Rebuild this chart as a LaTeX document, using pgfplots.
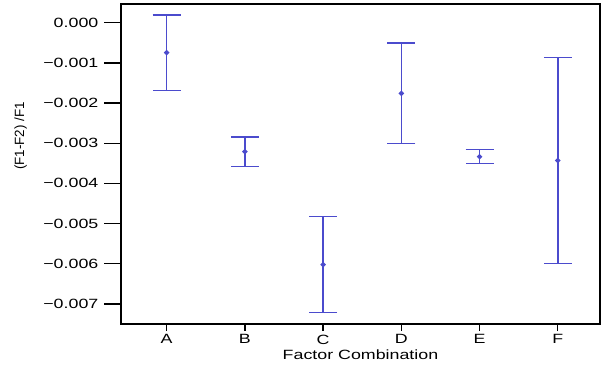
\documentclass[border=0pt]{standalone}
\usepackage{pgfplots}
\pgfplotsset{compat=1.18}
\usepackage{fontspec}
\setmainfont{Liberation Sans}[FakeStretch=1.33]
\newfontfamily\wide{Liberation Sans}[FakeStretch=1.33]
\newfontfamily\ylabfont{Liberation Sans}
\newcommand{\tl}[1]{\hbox{\wide\fontsize{13.4}{15}\selectfont #1}}
\definecolor{barblue}{RGB}{75,75,205}
\begin{document}
\fontsize{13.4}{15}\selectfont
\begin{tikzpicture}
\begin{axis}[
  scale only axis, width=479pt, height=320pt,
  xmin=-0.584, xmax=5.54,
  ymin=-0.0075, ymax=0.000465,
  axis y line*=left, axis x line=none,
  axis line style={line width=1.4pt},
  ytick={0,-0.001,-0.002,-0.003,-0.004,-0.005,-0.006,-0.007},
  yticklabels={},
  scaled y ticks=false,
  tick align=outside,
  major tick length=17pt,
  every tick/.style={black, line width=1.4pt},
]
\addplot[draw=none] coordinates {(0,0)};
\end{axis}
\begin{axis}[
  name=main,
  scale only axis, width=479pt, height=320pt,
  xmin=-0.584, xmax=5.54,
  ymin=-0.0075, ymax=0.000465,
  axis line style={line width=1.4pt},
  xtick={0,1,2,3,4,5},
  xticklabels={\tl{A},\tl{B},\tl{C},\tl{D},\tl{E},\tl{F}},
  ytick={0,-0.001,-0.002,-0.003,-0.004,-0.005,-0.006,-0.007},
  yticklabels={\tl{0.000},\tl{−0.001},\tl{−0.002},\tl{−0.003},\tl{−0.004},\tl{−0.005},\tl{−0.006},\tl{−0.007}},
  scaled y ticks=false,
  tick pos=left,
  tick align=outside,
  major tick length=7pt,
  every tick/.style={black, line width=1.4pt},
  xticklabel style={yshift=1pt},
  yticklabel style={xshift=-11pt},
  xlabel={\tl{Factor Combination}},
  xlabel style={yshift=3pt},
  ylabel={\hbox{\ylabfont\fontsize{13.4}{15}\selectfont (F1-F2) /F1}},
  every axis y label/.style={at={(rel axis cs:-0.232,0.5875)}, rotate=90, anchor=north},
  clip=false,
]
\addplot[color=barblue, line width=1.5pt, only marks, mark=*, mark size=1.8pt,
  error bars/.cd, y dir=both, y explicit,
  error bar style={line width=1.5pt, color=barblue},
  error mark options={color=barblue, line width=1.5pt, mark size=14pt, rotate=90}]
coordinates {
(0,-0.000746) +- (0,0.000937)
(1,-0.00321) +- (0,0.00037)
(2,-0.00602) +- (0,0.00119)
(3,-0.00176) +- (0,0.00125)
(4,-0.003335) +- (0,0.000175)
(5,-0.00343) +- (0,0.00256)
};
\end{axis}
\path (main.south west) ++(-121pt,-61pt) rectangle ++(601pt,385pt);
\end{tikzpicture}
\end{document}
